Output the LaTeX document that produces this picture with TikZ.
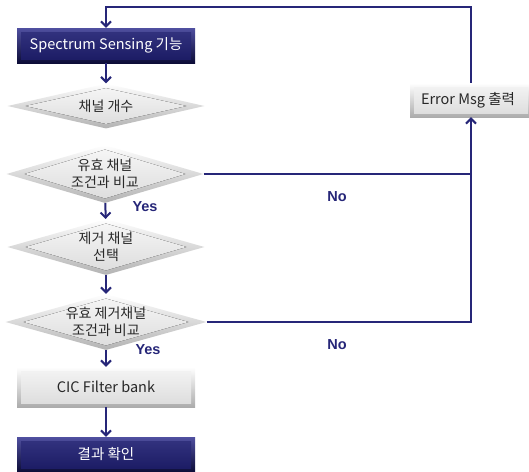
\documentclass[tikz,border=0pt]{standalone}
\usepackage{fontspec}
\setmainfont{Noto Sans CJK KR}
\newfontfamily\lblfont{Liberation Sans}
\usetikzlibrary{shapes.geometric,arrows.meta}
\definecolor{navy}{RGB}{30,30,115}
\definecolor{navylt}{RGB}{80,80,160}
\definecolor{navydk}{RGB}{12,12,55}
\definecolor{linec}{RGB}{38,38,120}
\definecolor{txtgray}{RGB}{40,40,40}
\tikzset{
  dbox/.style={rectangle, minimum width=178pt, minimum height=35pt, inner sep=0pt,
    top color=navylt, bottom color=navydk, text=white,
    font=\fontsize{14.5}{17}\selectfont,
    path picture={\fill[top color=navy!90!white, bottom color=navy!85!black]
      ([xshift=4pt,yshift=-4pt]path picture bounding box.north west) rectangle
      ([xshift=-4pt,yshift=4pt]path picture bounding box.south east);}},
  gbox/.style={rectangle, minimum height=35pt, inner sep=0pt,
    top color=white, bottom color=gray!65, text=txtgray,
    font=\fontsize{14.5}{17}\selectfont,
    path picture={\fill[top color=gray!8, bottom color=gray!28]
      ([xshift=4pt,yshift=-4pt]path picture bounding box.north west) rectangle
      ([xshift=-4pt,yshift=4pt]path picture bounding box.south east);}},
  dia/.style={diamond, minimum width=197pt, inner sep=0pt, aspect=3.5,
    top color=white, bottom color=gray!60, text=txtgray,
    font=\fontsize{14}{16.5}\selectfont, align=center,
    path picture={\fill[top color=gray!6, bottom color=gray!28]
      ([yshift=-4.5pt]path picture bounding box.north) --
      ([xshift=-18pt]path picture bounding box.east) --
      ([yshift=4.5pt]path picture bounding box.south) --
      ([xshift=18pt]path picture bounding box.west) -- cycle;}},
  conn/.style={draw=linec, line width=2pt},
  arr/.style={conn, -{Straight Barb[length=5pt,width=10pt,line width=2pt]}},
  lbl/.style={font=\lblfont\bfseries\fontsize{14.5}{17}\selectfont, text=linec}
}
\begin{document}
\begin{tikzpicture}[x=1pt,y=-1pt]
\useasboundingbox (0,0) rectangle (529,471);
\node[dbox] (spec) at (106,45.5) {Spectrum Sensing 기능};
\node[dia, minimum height=45pt] (d1) at (106,106) {채널 개수};
\node[dia, minimum height=58pt] (d2) at (105,174) {유효 채널\\조건과 비교};
\node[dia, minimum height=56pt] (d3) at (106,247) {제거 채널\\선택};
\node[dia, minimum height=56pt, minimum width=201pt] (d4) at (106,322) {유효 제거채널\\조건과 비교};
\node[gbox, minimum width=178pt, minimum height=40pt] (cic) at (106,387) {CIC Filter bank};
\node[gbox, minimum width=122pt, minimum height=34pt] (err) at (471,100) {\hspace*{-6pt}Error Msg 출력};
\node[dbox] (res) at (106,454.5) {결과 확인};
\coordinate (tr) at (471,7);

\draw[arr] (spec) -- (d1);
\draw[arr] (d2) -- (d3);
\draw[arr] (d3) -- (d4);
\draw[arr] (d4) -- (cic);
\draw[arr] (cic) -- (res);
\draw[conn] (d2.east) -- (d2.east -| err.south);
\draw[arr] (d4.east) -| (err.south);
\draw[arr] (err.north) -- (tr) -| (spec.north);

\node[lbl] (y1) at (145,207) {Yes};
\node[lbl] (y2) at (148,350) {Yes};
\node[lbl] (n1) at (337,197) {No};
\node[lbl] (n2) at (337,345) {No};
\end{tikzpicture}
\end{document}
